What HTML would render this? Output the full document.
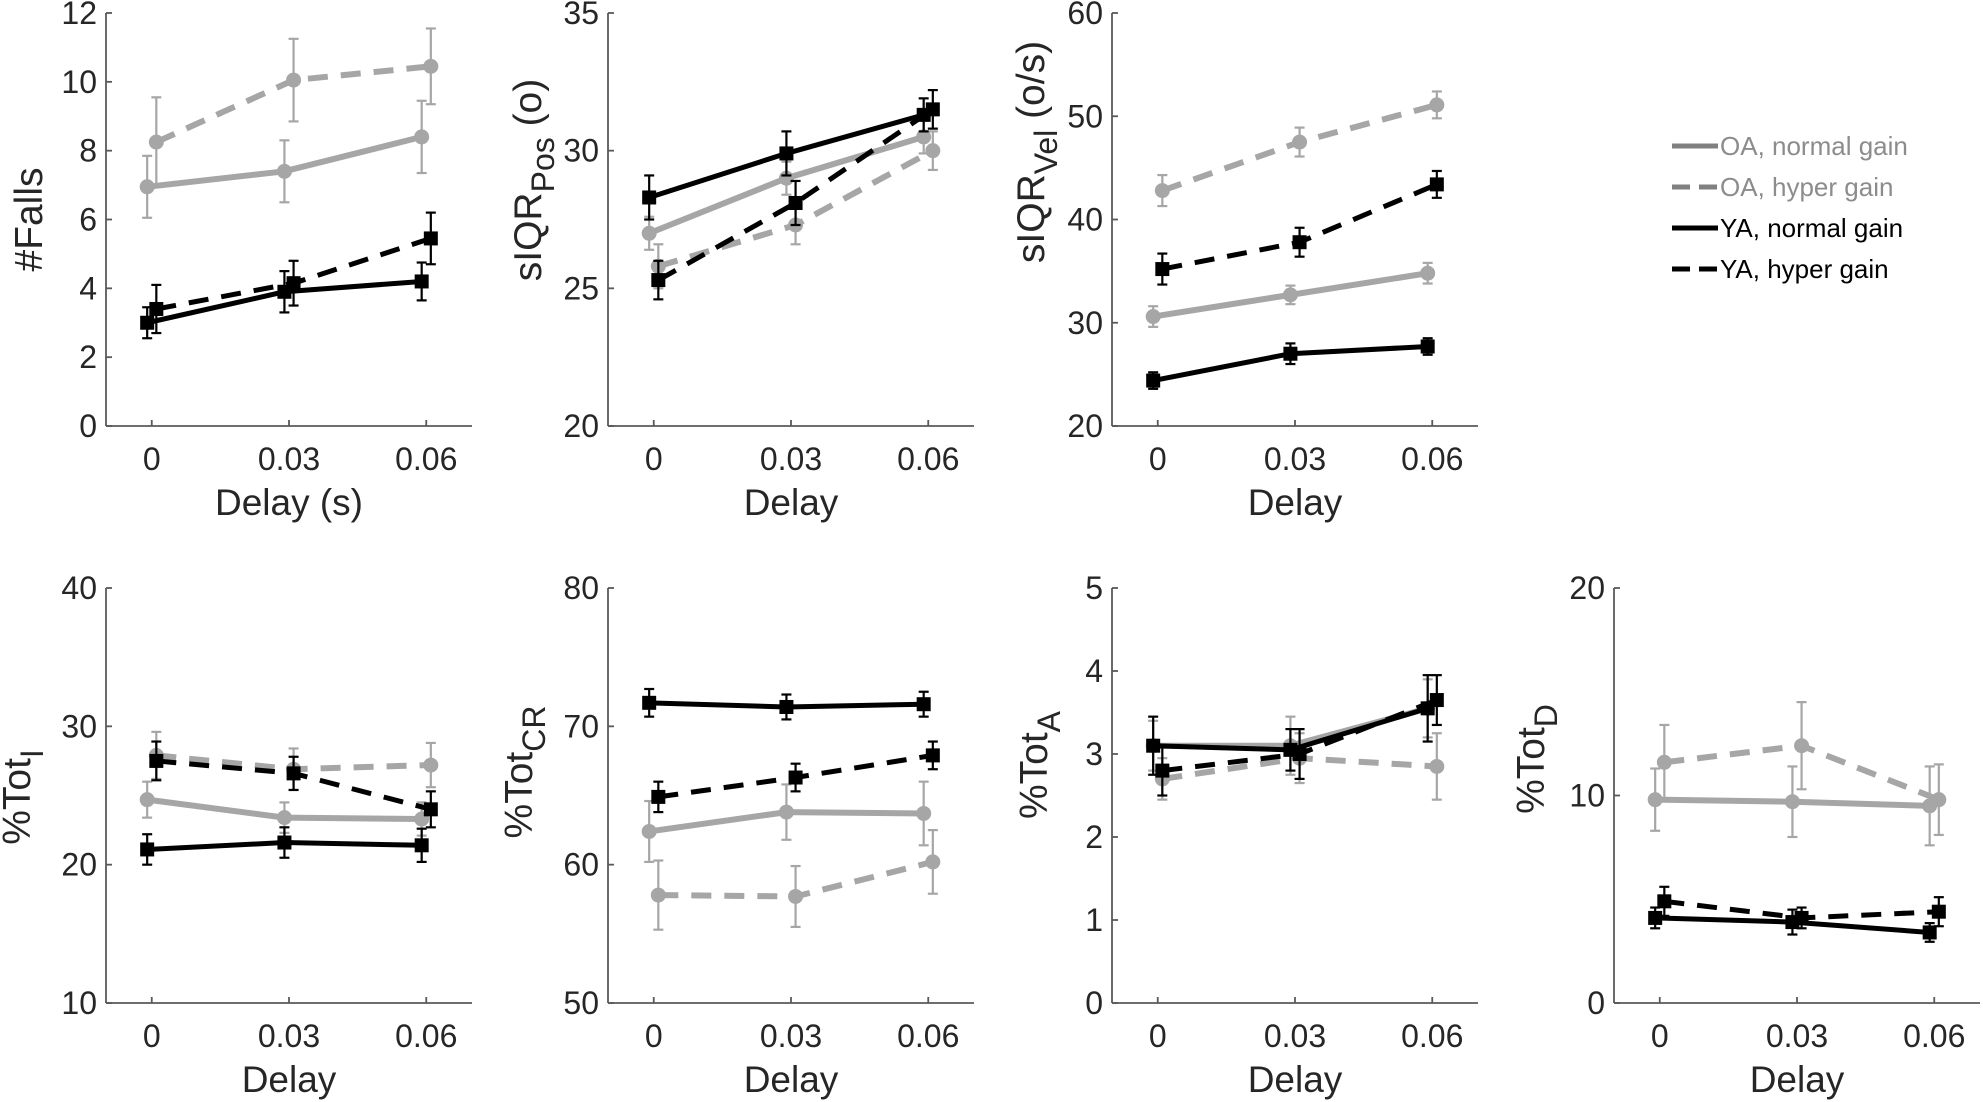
<!DOCTYPE html>
<html><head><meta charset="utf-8"><style>
html,body{margin:0;padding:0;background:#fff;}
svg{display:block;font-family:"Liberation Sans",sans-serif;}
</style></head><body>
<svg id="fig" width="1983" height="1102" viewBox="0 0 1983 1102"></svg>
<script>
const delays=[0,0.03,0.06];
const groupNames=["OA, normal gain","OA, hyper gain","YA, normal gain","YA, hyper gain"];
// panel values [OA normal, OA hyper, YA normal, YA hyper]
const fallsMean=[[6.95,7.4,8.4],[8.25,10.05,10.45],[3.0,3.9,4.2],[3.4,4.15,5.45]];
const fallsErr=[[0.9,0.9,1.05],[1.3,1.2,1.1],[0.45,0.6,0.55],[0.7,0.65,0.75]];
const posMean=[[27.0,29.0,30.5],[25.8,27.3,30.0],[28.3,29.9,31.3],[25.3,28.1,31.5]];
const posErr=[[0.6,0.6,0.6],[0.8,0.7,0.7],[0.8,0.8,0.6],[0.7,0.8,0.7]];
const velMean=[[30.6,32.7,34.8],[42.8,47.5,51.1],[24.4,27.0,27.7],[35.2,37.8,43.4]];
const velErr=[[1.0,0.9,1.0],[1.5,1.4,1.3],[0.8,1.0,0.8],[1.5,1.4,1.3]];
const totIMean=[[24.7,23.4,23.3],[27.9,26.9,27.2],[21.1,21.6,21.4],[27.5,26.6,24.0]];
const totIErr=[[1.3,1.1,1.2],[1.7,1.5,1.6],[1.1,1.1,1.2],[1.4,1.2,1.3]];
const totCRMean=[[62.4,63.8,63.7],[57.8,57.7,60.2],[71.7,71.4,71.6],[64.9,66.3,67.9]];
const totCRErr=[[2.2,2.0,2.3],[2.5,2.2,2.3],[1.0,0.9,0.9],[1.1,1.0,1.0]];
const totAMean=[[3.1,3.1,3.55],[2.7,2.95,2.85],[3.1,3.05,3.55],[2.8,3.0,3.65]];
const totAErr=[[0.3,0.35,0.35],[0.25,0.3,0.4],[0.35,0.25,0.4],[0.3,0.3,0.3]];
const totDMean=[[9.8,9.7,9.5],[11.6,12.4,9.8],[4.1,3.9,3.4],[4.9,4.1,4.4]];
const totDErr=[[1.5,1.7,1.9],[1.8,2.1,1.7],[0.5,0.6,0.45],[0.7,0.5,0.7]];
const yTicksFalls=[0,2,4,6,8,10,12];
const yTicksPos=[20,25,30,35];
const yTicksVel=[20,30,40,50,60];
const yTicksI=[10,20,30,40];
const yTicksCR=[50,60,70,80];
const yTicksA=[0,1,2,3,4,5];
const yTicksD=[0,10,20];
const xTickLabels=["0","0.03","0.06"];

const NS="http://www.w3.org/2000/svg";
const svg=document.getElementById("fig");
function mk(tag,attrs,parent){const e=document.createElementNS(NS,tag);for(const k in attrs)e.setAttribute(k,attrs[k]);(parent||svg).appendChild(e);return e;}
const GRAY="#a6a6a6",BLACK="#000",TXT="#262626",AX="#595959";
const styles=[{c:GRAY,dash:null,m:"circle",w:6,off:-0.001},{c:GRAY,dash:"20 13",m:"circle",w:6,off:0.001},
{c:BLACK,dash:null,m:"square",w:5,off:-0.001},{c:BLACK,dash:"20 13",m:"square",w:5,off:0.001}];
const panels=[
{name:"falls",L:106,T:13,B:426,mean:fallsMean,err:fallsErr,ticks:yTicksFalls,lab:"#Falls",sub:"",post:"",xlab:"Delay (s)",lx:64,ly:null},
{name:"siqr-pos",L:608,T:13,B:426,mean:posMean,err:posErr,ticks:yTicksPos,lab:"sIQR",sub:"Pos",post:"   (o)",xlab:"Delay",lx:67,ly:180},
{name:"siqr-vel",L:1112,T:13,B:426,mean:velMean,err:velErr,ticks:yTicksVel,lab:"sIQR",sub:"Vel",post:" (o/s)",xlab:"Delay",lx:68,ly:152},
{name:"tot-i",L:106,T:588,B:1003,mean:totIMean,err:totIErr,ticks:yTicksI,lab:"%Tot",sub:"I",post:"",xlab:"Delay",lx:76,ly:797},
{name:"tot-cr",L:608,T:588,B:1003,mean:totCRMean,err:totCRErr,ticks:yTicksCR,lab:"%Tot",sub:"CR",post:"",xlab:"Delay",lx:76,ly:772},
{name:"tot-a",L:1112,T:588,B:1003,mean:totAMean,err:totAErr,ticks:yTicksA,lab:"%Tot",sub:"A",post:"",xlab:"Delay",lx:65,ly:765},
{name:"tot-d",L:1614,T:588,B:1003,mean:totDMean,err:totDErr,ticks:yTicksD,lab:"%Tot",sub:"D",post:"",xlab:"Delay",lx:70,ly:759}];
const W=366;
panels.forEach(p=>{
  const g=mk("g",{});
  
  
  const ymin=p.ticks[0],ymax=p.ticks[p.ticks.length-1];
  const X=v=>p.L+(v+0.01)/0.08*W;
  const Y=v=>p.B-(v-ymin)/(ymax-ymin)*(p.B-p.T);
  const ya=mk("line",{x1:p.L,y1:p.T,x2:p.L,y2:p.B,stroke:AX,"stroke-width":1.8},g);
  
  const xa=mk("line",{x1:p.L,y1:p.B,x2:p.L+W,y2:p.B,stroke:AX,"stroke-width":1.8},g);
  
  p.ticks.forEach(t=>{
    mk("line",{x1:p.L,y1:Y(t),x2:p.L+6,y2:Y(t),stroke:AX,"stroke-width":1.8},g);
    const tl=mk("text",{x:p.L-9,y:Y(t)+11,"text-anchor":"end","font-size":32,fill:TXT},g);
    tl.textContent=t;
    
  });
  delays.forEach((d,i)=>{
    mk("line",{x1:X(d),y1:p.B,x2:X(d),y2:p.B-6,stroke:AX,"stroke-width":1.8},g);
    const tl=mk("text",{x:X(d),y:p.B+44,"text-anchor":"middle","font-size":32,fill:TXT},g);
    tl.textContent=xTickLabels[i];
    
  });
  const xl=mk("text",{x:p.L+W/2,y:p.B+89,"text-anchor":"middle","font-size":37,fill:TXT},g);
  xl.textContent=p.xlab;
  
  const ly=p.ly||(p.T+p.B)/2, lxp=p.L-p.lx;
  const yl=mk("text",{x:0,y:0,"text-anchor":"middle","font-size":39,fill:TXT,transform:`translate(${lxp},${ly}) rotate(-90)`},g);
  
  const t1=mk("tspan",{},yl);t1.textContent=p.lab;
  if(p.sub){const t2=mk("tspan",{dy:13,"font-size":32},yl);t2.textContent=p.sub;}
  if(p.post){const t3=mk("tspan",{dy:-13,"xml:space":"preserve"},yl);t3.textContent=p.post;}
  styles.forEach((s,k)=>{
    const sg=mk("g",{},g);
    
    
    const pts=delays.map((d,i)=>[X(d+s.off),Y(p.mean[k][i])]);
    delays.forEach((d,i)=>{
      const x=X(d+s.off),y1=Y(p.mean[k][i]-p.err[k][i]),y2=Y(p.mean[k][i]+p.err[k][i]);
      const ec=s.c;
      mk("line",{x1:x,y1:y1,x2:x,y2:y2,stroke:ec,"stroke-width":2.2},sg);
      mk("line",{x1:x-5,y1:y1,x2:x+5,y2:y1,stroke:ec,"stroke-width":2.2},sg);
      mk("line",{x1:x-5,y1:y2,x2:x+5,y2:y2,stroke:ec,"stroke-width":2.2},sg);
    });
    const pl=mk("polyline",{points:pts.map(q=>q.join(",")).join(" "),fill:"none",stroke:s.c,"stroke-width":s.w},sg);
    if(s.dash)pl.setAttribute("stroke-dasharray",s.dash);
    
    pts.forEach(q=>{
      let m;
      if(s.m==="circle")m=mk("circle",{cx:q[0],cy:q[1],r:7.5,fill:s.c},sg);
      else m=mk("rect",{x:q[0]-7,y:q[1]-7,width:14,height:14,fill:s.c},sg);
      
    });
  });
});
const lg=mk("g",{});


const legY=[146,187,228,269];
styles.forEach((s,k)=>{
  const e=mk("g",{},lg);
  
  
  const ln=mk("line",{x1:1672,y1:legY[k],x2:1718,y2:legY[k],stroke:s.c==GRAY?"#808080":"#000","stroke-width":5},e);
  if(s.dash)ln.setAttribute("stroke-dasharray","18 9");
  const t=mk("text",{x:1720,y:legY[k]+9,"font-size":26,fill:s.c==GRAY?"#8c8c8c":"#000"},e);
  t.textContent=groupNames[k];
});
</script>
</body></html>
